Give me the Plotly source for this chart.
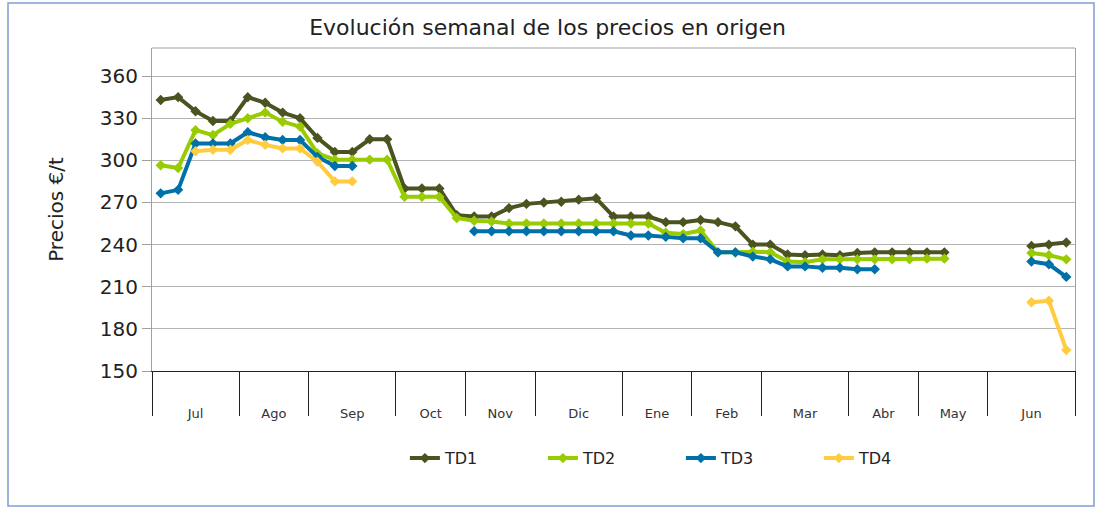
import plotly.graph_objects as go

# ---- data ----
months = ["Jul", "Ago", "Sep", "Oct", "Nov", "Dic", "Ene", "Feb", "Mar", "Abr", "May", "Jun"]
weeks_per_month = [5, 4, 5, 4, 4, 5, 4, 4, 5, 4, 4, 5]

N = None
td1 = [343, 345, 335, 328, 328, 345, 341, 334, 330, 316, 306, 306, 315, 315,
       280, 280, 280, 261, 260, 260, 266, 269, 270, 270.5, 272, 273, 260, 260, 260,
       256, 256, 257.5, 256, 253, 240, 240, 233, 232.5, 233, 232.5, 234, 234.5,
       234.5, 234.5, 234.5, 234.5, N, N, N, N, 239, 240, 241.5]
td2 = [296.5, 294.5, 321.5, 318, 326, 330, 334, 327.5, 324, 305, 300.5, 300.5, 300.5, 300.5,
       274, 274, 274, 259, 257, 256.5, 255, 255, 255, 255, 255, 255, 255, 255, 255,
       248.5, 247.5, 250, 234.5, 234.5, 235, 234.5, 228, 227.5, 229.5, 229.5, 229.5, 229.5,
       229.5, 229.5, 230, 230, N, N, N, N, 234, 232.5, 229.5]
td3 = [276.5, 279, 312, 312, 312, 320, 316.5, 314.5, 314.5, 302.5, 296, 296, N, N,
       N, N, N, N, 249.5, 249.5, 249.5, 249.5, 249.5, 249.5, 249.5, 249.5, 249.5, 246.5, 246.5,
       245.5, 244.5, 244.5, 234.5, 234.5, 231.5, 229.5, 224.5, 224.5, 223.5, 223.5, 222.5, 222.5,
       N, N, N, N, N, N, N, N, 228, 226, 217]
td4 = [N, N, 306.5, 307.5, 307.5, 314.5, 311, 308.5, 308.5, 299, 285, 285, N, N,
       N, N, N, N, N, N, N, N, N, N, N, N, N, N, N,
       N, N, N, N, N, N, N, N, N, N, N, N, N,
       N, N, N, N, N, N, N, N, 199, 200, 165]

series = [("TD1", td1, "#4b5320"), ("TD2", td2, "#99cc00"),
          ("TD3", td3, "#0070a8"), ("TD4", td4, "#ffcc40")]

n_weeks = sum(weeks_per_month)
weeks = list(range(n_weeks))

# month boundaries and centres (in week-index units)
bounds = [-0.5]
for w in weeks_per_month:
    bounds.append(bounds[-1] + w)
centres = [(bounds[i] + bounds[i + 1]) / 2 for i in range(len(months))]

FONT = "DejaVu Sans"

fig = go.Figure()
for name, vals, col in series:
    fig.add_trace(go.Scatter(
        x=weeks, y=vals, name=name, mode="lines+markers",
        line=dict(color=col, width=4),
        marker=dict(symbol="diamond", size=8, color=col),
        connectgaps=False,
    ))

# invisible trace for secondary axis carrying month labels
fig.add_trace(go.Scatter(x=[bounds[0], bounds[-1]], y=[None, None], xaxis="x2",
                         showlegend=False, hoverinfo="skip"))

fig.update_layout(
    width=1095, height=510,
    margin=dict(l=152, r=20, t=48, b=139, autoexpand=False),
    paper_bgcolor="white", plot_bgcolor="white",
    font=dict(family=FONT, color="#222222"),
    title=dict(text="Evolución semanal de los precios en origen",
               x=0.5, xref="container", xanchor="center", y=0.947, yanchor="middle",
               font=dict(family=FONT, size=22, color="#222222")),
    xaxis=dict(range=[bounds[0], bounds[-1]], tickmode="array", tickvals=bounds,
               ticktext=[""] * len(bounds), ticks="outside", ticklen=44,
               tickcolor="#222222", tickwidth=1, showgrid=False, automargin=False,
               showline=True, linecolor="#222222", linewidth=1, zeroline=False),
    xaxis2=dict(range=[bounds[0], bounds[-1]], overlaying="x", anchor="y", side="bottom",
                tickmode="array", tickvals=centres, ticktext=months, ticks="",
                showgrid=False, showline=False, zeroline=False, automargin=False,
                ticklabelstandoff=33,
                tickfont=dict(family=FONT, size=13, color="#333333")),
    yaxis=dict(range=[150, 380], tickmode="array", tickvals=list(range(150, 361, 30)),
               ticks="outside", ticklen=9, tickcolor="#a0a0a0", automargin=False,
               showgrid=True, gridcolor="#b4b4b4", gridwidth=1,
               showline=True, linecolor="#a0a0a0", mirror=True, zeroline=False,
               tickfont=dict(family=FONT, size=20, color="#222222"),
               title=dict(text="Precios €/t", standoff=30,
                          font=dict(family=FONT, size=20, color="#222222"))),
    legend=dict(orientation="h", x=0.274, xanchor="left", y=-0.27, yanchor="middle",
                entrywidth=93, entrywidthmode="pixels",
                font=dict(family=FONT, size=16, color="#222222")),
    shapes=[
        dict(type="line", xref="paper", yref="paper", x0=0, x1=1, y0=1, y1=1,
             line=dict(color="#a0a0a0", width=1)),
        dict(type="rect", xref="paper", yref="paper",
             x0=(8 - 152) / 923, x1=(1094 - 152) / 923,
             y0=(371 - 506) / 323, y1=(371 - 3) / 323,
             line=dict(color="#7f9fd4", width=1.5), fillcolor="rgba(0,0,0,0)", layer="below"),
    ],
)

fig.write_html("out.html", config={"displayModeBar": False},
               post_script="document.body.style.margin='0';")
